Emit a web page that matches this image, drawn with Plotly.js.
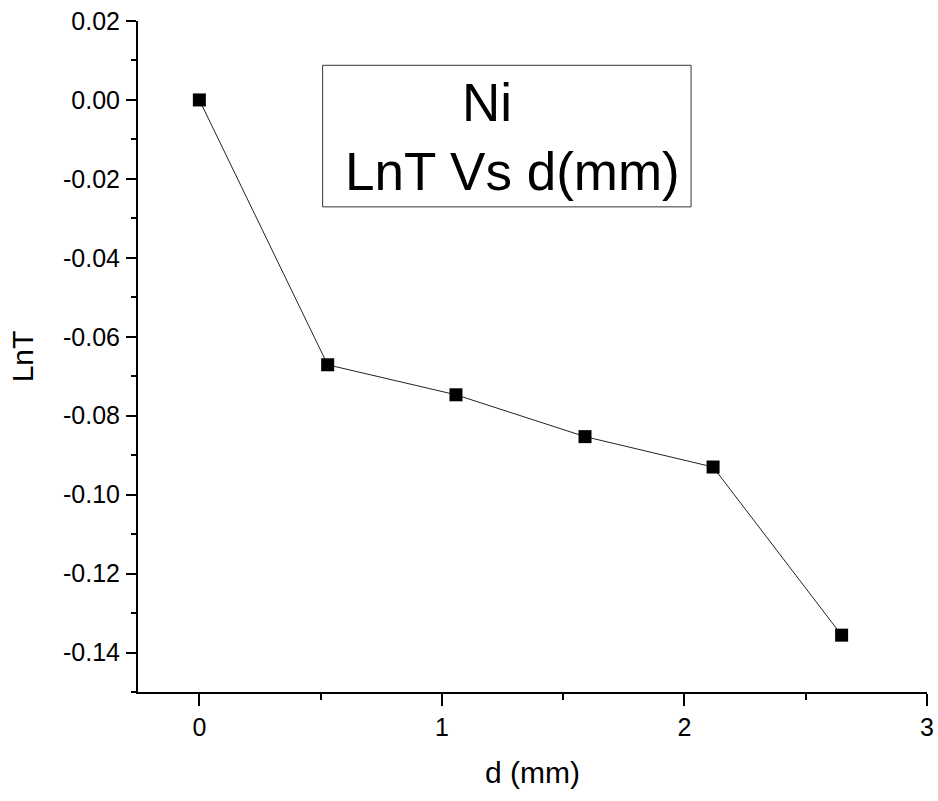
<!DOCTYPE html>
<html>
<head>
<meta charset="utf-8">
<script src="https://cdn.plot.ly/plotly-3.0.1.min.js"></script>
<style>
  html, body { margin: 0; padding: 0; background: #fff; }
  #chart { width: 938px; height: 801px; }
</style>
</head>
<body>
<div id="chart"></div>
<script>
// Transmission through Ni foils: ln T against thickness d (mm)
const thicknessMm = [0, 0.529, 1.058, 1.59, 2.118, 2.648];
const lnT = [0.0, -0.0671, -0.0747, -0.0853, -0.0930, -0.1356];

const xTickVals = [0, 1, 2, 3];
const xTickText = ['0', '1', '2', '3'];
const yTickVals = [0.02, 0.0, -0.02, -0.04, -0.06, -0.08, -0.10, -0.12, -0.14];
const yTickText = ['0.02', '0.00', '-0.02', '-0.04', '-0.06', '-0.08', '-0.10', '-0.12', '-0.14'];

const FONT = 'Liberation Sans, Arial, sans-serif';

const trace = {
  x: thicknessMm,
  y: lnT,
  mode: 'lines+markers',
  type: 'scatter',
  line: { color: '#222', width: 1 },
  marker: { symbol: 'square', size: 13, color: '#000' },
  hoverinfo: 'x+y'
};

const layout = {
  width: 938,
  height: 801,
  margin: { l: 138, r: 11, t: 21, b: 109 },
  paper_bgcolor: '#fff',
  plot_bgcolor: '#fff',
  showlegend: false,
  font: { family: FONT, color: '#000', size: 25 },
  xaxis: {
    range: [-0.253, 3],
    tickmode: 'array',
    tickvals: xTickVals,
    ticktext: xTickText,
    ticks: 'outside',
    ticklen: 12,
    tickwidth: 2,
    tickcolor: '#000',
    ticklabelstandoff: 0,
    showline: true,
    linewidth: 2,
    linecolor: '#000',
    showgrid: false,
    zeroline: false,
    tickfont: { family: FONT, size: 25, color: '#000' },
    minor: { tickmode: 'linear', tick0: 0, dtick: 0.5, ticks: 'outside', ticklen: 6, tickwidth: 2, tickcolor: '#000', showgrid: false },
    title: { text: 'd (mm)', font: { family: FONT, size: 30, color: '#000' }, standoff: 22 }
  },
  yaxis: {
    range: [-0.15, 0.02],
    tickmode: 'array',
    tickvals: yTickVals,
    ticktext: yTickText,
    ticks: 'outside',
    ticklen: 10,
    tickwidth: 2,
    tickcolor: '#000',
    ticklabelstandoff: 1,
    showline: true,
    linewidth: 2,
    linecolor: '#000',
    showgrid: false,
    zeroline: false,
    tickfont: { family: FONT, size: 25, color: '#000' },
    minor: { tickmode: 'linear', tick0: 0, dtick: 0.01, ticks: 'outside', ticklen: 5, tickwidth: 2, tickcolor: '#000', showgrid: false },
    title: { text: 'LnT', font: { family: FONT, size: 30, color: '#000' }, standoff: 21 }
  },
  shapes: [{
    type: 'rect', xref: 'paper', yref: 'paper',
    x0: 0.234, x1: 0.701, y0: 0.723, y1: 0.934,
    line: { color: '#333', width: 1 }, fillcolor: 'rgba(0,0,0,0)'
  }],
  annotations: [
    {
      xref: 'paper', yref: 'paper', x: 0.442, y: 0.879,
      text: 'Ni', showarrow: false, xanchor: 'center', yanchor: 'middle',
      font: { family: FONT, size: 53, color: '#000' }
    },
    {
      xref: 'paper', yref: 'paper', x: 0.475, y: 0.775,
      text: 'LnT Vs d(mm)', showarrow: false, xanchor: 'center', yanchor: 'middle',
      font: { family: FONT, size: 53, color: '#000' }
    }
  ]
};

Plotly.newPlot('chart', [trace], layout, { displayModeBar: false, staticPlot: true });
</script>
</body>
</html>
